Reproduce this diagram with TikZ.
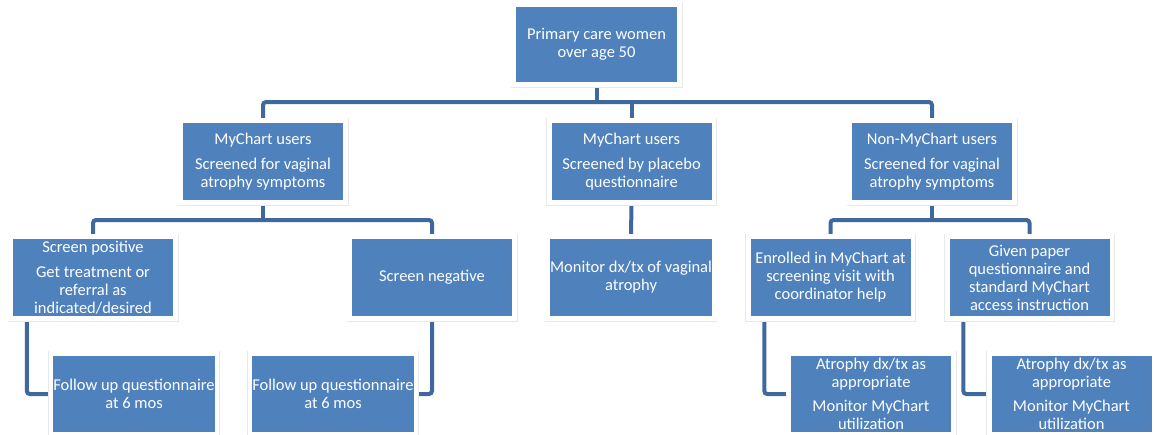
\documentclass[tikz,border=0pt]{standalone}
\usepackage{fontspec}
\setmainfont{Carlito}
\usetikzlibrary{backgrounds}
\definecolor{boxblue}{RGB}{79,129,189}
\definecolor{connblue}{RGB}{62,104,158}
\begin{document}
\begin{tikzpicture}[x=1pt,y=-1pt,
  box/.style={rectangle, fill=boxblue, minimum width=160pt, minimum height=77pt,
    inner sep=0pt, text=white, align=center,
    font=\fontsize{16.5}{18}\selectfont,
    preaction={draw=black!9, line width=11pt},
    preaction={draw=white, line width=9.6pt}},
  conn/.style={draw=connblue, line width=4pt, rounded corners=3pt}]
\useasboundingbox (0,0) rectangle (1155,434);
% level 1
\node[box, minimum width=161pt, minimum height=75pt] (top) at (596.5,44.5) {Primary care women\\over age 50};
% level 2
\node[box] (A) at (263,161.5) {MyChart users\\[7pt]Screened for vaginal\\atrophy symptoms};
\node[box] (B) at (631.5,161.5) {MyChart users\\[7pt]Screened by placebo\\questionnaire};
\node[box] (C) at (932,161.5) {Non-MyChart users\\[7pt]Screened for vaginal\\atrophy symptoms};
% level 3
\node[box] (SP) at (93,277.5) {Screen positive\\[7pt]Get treatment or\\referral as\\indicated/desired};
\node[box] (SN) at (432,277.5) {Screen negative};
\node[box] (MON) at (631,277.5) {Monitor dx/tx of vaginal\\atrophy};
\node[box] (EN) at (830.5,277.5) {Enrolled in MyChart at\\screening visit with\\coordinator help};
\node[box] (GP) at (1029.5,277.5) {Given paper\\questionnaire and\\standard MyChart\\access instruction};
% level 4
\node[box, minimum height=76pt] (FU1) at (134,394) {Follow up questionnaire\\at 6 mos};
\node[box, minimum height=76pt] (FU2) at (333,394) {Follow up questionnaire\\at 6 mos};
\node[box, minimum height=76pt] (AT1) at (871,394) {Atrophy dx/tx as\\appropriate\\[6pt]Monitor MyChart\\utilization};
\node[box, minimum height=76pt] (AT2) at (1071.5,394) {Atrophy dx/tx as\\appropriate\\[6pt]Monitor MyChart\\utilization};
% junctions
\coordinate (j1) at (596.5,102);
\coordinate (j2) at (263,220);
\coordinate (j3) at (932,220);
\coordinate (sp1) at ([xshift=14pt]SP.south west);
\coordinate (en1) at ([xshift=14pt]EN.south west);
\coordinate (gp1) at ([xshift=14pt]GP.south west);
\begin{scope}[on background layer]
\draw[conn] (top.south) -- (j1);
\draw[conn] (A.north) |- (j1) -| (C.north);
\draw[conn] (B.north) -- (B.north |- j1);
\draw[conn] (A.south) -- (j2);
\draw[conn] (SP.north) |- (j2) -| (SN.north);
\draw[conn] (B.south) -- (MON.north);
\draw[conn] (C.south) -- (j3);
\draw[conn] (EN.north) |- (j3) -| (GP.north);
\draw[conn] (sp1) |- (FU1.west);
\draw[conn] (SN.south) |- (FU2.east);
\draw[conn] (en1) |- (AT1.west);
\draw[conn] (gp1) |- (AT2.west);
\end{scope}
\end{tikzpicture}
\end{document}
